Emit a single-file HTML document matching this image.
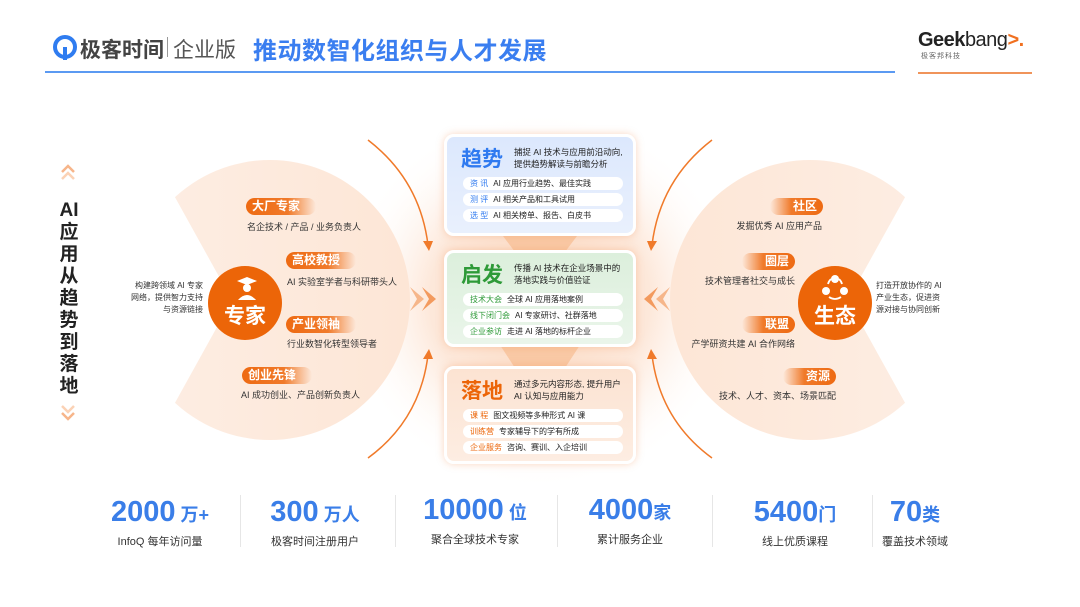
<!DOCTYPE html>
<html><head><meta charset="utf-8"><style>
*{margin:0;padding:0;box-sizing:border-box}
body{width:1080px;height:607px;background:#fff;position:relative;overflow:hidden;font-family:"Liberation Sans","Noto Sans CJK SC",sans-serif;color:#222}
.a{position:absolute;white-space:nowrap}
.pill{position:absolute;height:17px;border-radius:9px;color:#fff;font-size:12px;font-weight:bold;line-height:17px;padding:0 6px;white-space:nowrap}
.pl{background:linear-gradient(90deg,#ee6a12 0%,#f07a2a 60%,rgba(245,150,90,0) 100%)}
.pr{background:linear-gradient(270deg,#ee6a12 0%,#f07a2a 60%,rgba(245,150,90,0) 100%);text-align:right}
.d{position:absolute;font-size:9px;color:#333;white-space:nowrap}
.card{position:absolute;left:444px;width:192px;border-radius:10px;border:3px solid #fff;box-shadow:0 0 8px rgba(240,140,80,.35)}
.card .t{position:absolute;left:14px;top:6px;font-size:21px;font-weight:bold}
.card .s{position:absolute;left:67px;top:9px;font-size:8.5px;line-height:12px;color:#222}
.row{position:absolute;left:16px;width:160px;height:13px;background:#fff;border-radius:7px;font-size:8px;line-height:13px;padding-left:7px;color:#222}
.row b{font-weight:normal;margin-right:5px}
.num{position:absolute;font-size:29px;color:#3a7ee8;font-weight:bold;white-space:nowrap;text-align:center}
.num span{font-size:18px}
.lab{position:absolute;font-size:11px;color:#333;white-space:nowrap;text-align:center}
.div{position:absolute;top:495px;width:1px;height:52px;background:#e6e6e6}
</style></head><body>

<svg class="a" style="left:0;top:0" width="1080" height="607">
<defs>
<radialGradient id="glow" cx="50%" cy="50%" r="50%"><stop offset="0" stop-color="#fbd7bd"/><stop offset="0.55" stop-color="#fde8da"/><stop offset="1" stop-color="#fff" stop-opacity="0"/></radialGradient>
<linearGradient id="pl" x1="0" x2="1"><stop offset="0" stop-color="#fdeee4"/><stop offset="1" stop-color="#fde6d6"/></linearGradient>
<linearGradient id="pr" x1="1" x2="0"><stop offset="0" stop-color="#fdeee4"/><stop offset="1" stop-color="#fde6d6"/></linearGradient>
</defs>
<ellipse cx="540" cy="300" rx="200" ry="190" fill="url(#glow)"/>
<circle cx="270" cy="300" r="140" fill="url(#pl)"/>
<polygon points="100,62 232,300 100,538" fill="#fff"/>
<path d="M368,140 Q420,180 428,245" fill="none" stroke="#f07a2a" stroke-width="1.5"/>
<polygon points="423,241 433,241 429,251" fill="#f07a2a"/>
<path d="M368,458 Q420,420 428,355" fill="none" stroke="#f07a2a" stroke-width="1.5"/>
<polygon points="423,359 433,359 429,349" fill="#f07a2a"/>
<circle cx="810" cy="300" r="140" fill="url(#pr)"/>
<polygon points="980,62 848,300 980,538" fill="#fff"/>
<path d="M712,140 Q660,180 652,245" fill="none" stroke="#f07a2a" stroke-width="1.5"/>
<polygon points="647,241 657,241 651,251" fill="#f07a2a"/>
<path d="M712,458 Q660,420 652,355" fill="none" stroke="#f07a2a" stroke-width="1.5"/>
<polygon points="647,359 657,359 651,349" fill="#f07a2a"/>
<polygon points="410,287 424,299 410,311 417,299" fill="#f6b68a"/>
<polygon points="422,287 436,299 422,311 429,299" fill="#f39a5e"/>
<polygon points="670,287 656,299 670,311 663,299" fill="#f6b68a"/>
<polygon points="658,287 644,299 658,311 651,299" fill="#f39a5e"/>
<polygon points="500,232 580,232 565,252 515,252" fill="#f9c9a5"/>
<polygon points="500,345 580,345 565,368 515,368" fill="#f9c9a5"/>
<circle cx="245" cy="303" r="37" fill="#ec6508"/>
<circle cx="835" cy="303" r="37" fill="#ec6508"/>
<polygon points="237,281 247,277 257,281 247,285" fill="#fff"/>
<circle cx="247" cy="288" r="4" fill="#fff"/>
<path d="M238,300 Q247,290 256,300 Z" fill="#fff"/>
<circle cx="835" cy="279" r="4" fill="#fff"/><circle cx="826" cy="291" r="4" fill="#fff"/><circle cx="844" cy="291" r="4" fill="#fff"/>
<path d="M828,284 A10,10 0 0 1 831,279 M839,279 A10,10 0 0 1 842,284 M829,297 Q835,301 841,297" fill="none" stroke="#fff" stroke-width="1.8"/>
<polyline points="62,172 68,166 74,172" fill="none" stroke="#f7b58a" stroke-width="2.5"/>
<polyline points="62,179 68,173 74,179" fill="none" stroke="#fbd2b5" stroke-width="2.5"/>
<polyline points="62,406 68,412 74,406" fill="none" stroke="#fbd2b5" stroke-width="2.5"/>
<polyline points="62,413 68,419 74,413" fill="none" stroke="#f7b58a" stroke-width="2.5"/>
<line x1="45" y1="72" x2="895" y2="72" stroke="#5b9af2" stroke-width="2"/>
<line x1="918" y1="73" x2="1032" y2="73" stroke="#f0945a" stroke-width="2"/>
</svg>

<!-- header -->
<svg class="a" style="left:53px;top:35px" width="24" height="26" viewBox="0 0 24 26"><circle cx="12" cy="12" r="10" fill="none" stroke="#2f7cf0" stroke-width="4"/><path d="M12 12 L12 25" stroke="#2f7cf0" stroke-width="4"/></svg>
<div class="a" style="left:80px;top:34px;font-size:21px;color:#444;font-weight:bold">极客时间</div>
<div class="a" style="left:167px;top:37px;width:1px;height:20px;background:#999"></div>
<div class="a" style="left:173px;top:34px;font-size:21px;color:#555">企业版</div>
<div class="a" style="left:253px;top:31px;font-size:24px;color:#3a7ef0;font-weight:bold;letter-spacing:0.5px">推动数智化组织与人才发展</div>
<div class="a" style="left:918px;top:29px;font-size:20px;color:#222;font-weight:bold;letter-spacing:-0.5px">Geek<span style="font-weight:normal">bang</span><span style="color:#f07020">&gt;.</span></div>
<div class="a" style="left:921px;top:51px;font-size:7px;color:#666;letter-spacing:1px">极客邦科技</div>

<div class="a" style="left:207px;top:300px;width:76px;text-align:center;color:#fff;font-size:21px;font-weight:bold">专家</div>
<div class="a" style="left:797px;top:300px;width:76px;text-align:center;color:#fff;font-size:21px;font-weight:bold">生态</div>

<div class="a" style="left:56px;top:200px;width:26px;text-align:center;font-size:19px;font-weight:bold;line-height:22px;white-space:normal">AI<br>应<br>用<br>从<br>趋<br>势<br>到<br>落<br>地</div>

<div class="pill pl" style="left:246px;top:198px;width:70px">大厂专家</div>
<div class="d" style="left:247px;top:220px">名企技术 / 产品 / 业务负责人</div>
<div class="pill pl" style="left:286px;top:252px;width:70px">高校教授</div>
<div class="d" style="left:287px;top:275px">AI 实验室学者与科研带头人</div>
<div class="pill pl" style="left:286px;top:316px;width:70px">产业领袖</div>
<div class="d" style="left:287px;top:337px">行业数智化转型领导者</div>
<div class="pill pl" style="left:242px;top:367px;width:70px">创业先锋</div>
<div class="d" style="left:241px;top:388px">AI 成功创业、产品创新负责人</div>
<div class="d" style="left:130px;top:280px;width:73px;text-align:right;font-size:8px;line-height:12px;white-space:normal">构建跨领域 AI 专家网络，提供智力支持与资源链接</div>

<div class="pill pr" style="left:770px;top:198px;width:53px">社区</div>
<div class="d" style="left:722px;top:219px;width:100px;text-align:right">发掘优秀 AI 应用产品</div>
<div class="pill pr" style="left:742px;top:253px;width:53px">圈层</div>
<div class="d" style="left:695px;top:274px;width:100px;text-align:right">技术管理者社交与成长</div>
<div class="pill pr" style="left:742px;top:316px;width:53px">联盟</div>
<div class="d" style="left:680px;top:337px;width:115px;text-align:right">产学研资共建 AI 合作网络</div>
<div class="pill pr" style="left:783px;top:368px;width:53px">资源</div>
<div class="d" style="left:716px;top:389px;width:120px;text-align:right">技术、人才、资本、场景匹配</div>
<div class="d" style="left:876px;top:280px;width:70px;font-size:8px;line-height:12px;white-space:normal">打造开放协作的 AI 产业生态，促进资源对接与协同创新</div>

<div class="card" style="top:134px;height:102px;background:linear-gradient(180deg,#dce8fd,#e9f0fd)">
 <div class="t" style="color:#2f7af0">趋势</div>
 <div class="s">捕捉 AI 技术与应用前沿动向,<br>提供趋势解读与前瞻分析</div>
 <div class="row" style="top:40px"><b style="color:#2f7af0">资 讯</b>AI 应用行业趋势、最佳实践</div>
 <div class="row" style="top:56px"><b style="color:#2f7af0">测 评</b>AI 相关产品和工具试用</div>
 <div class="row" style="top:72px"><b style="color:#2f7af0">选 型</b>AI 相关榜单、报告、白皮书</div>
</div>
<div class="card" style="top:250px;height:97px;background:linear-gradient(180deg,#dcefdc,#eaf5ea)">
 <div class="t" style="color:#2e9a38">启发</div>
 <div class="s">传播 AI 技术在企业场景中的<br>落地实践与价值验证</div>
 <div class="row" style="top:40px"><b style="color:#2e9a38">技术大会</b>全球 AI 应用落地案例</div>
 <div class="row" style="top:56px"><b style="color:#2e9a38">线下闭门会</b>AI 专家研讨、社群落地</div>
 <div class="row" style="top:72px"><b style="color:#2e9a38">企业参访</b>走进 AI 落地的标杆企业</div>
</div>
<div class="card" style="top:366px;height:98px;background:linear-gradient(180deg,#fce3d2,#fdede2)">
 <div class="t" style="color:#ec6508">落地</div>
 <div class="s">通过多元内容形态, 提升用户<br>AI 认知与应用能力</div>
 <div class="row" style="top:40px"><b style="color:#ec6508">课 程</b>图文视频等多种形式 AI 课</div>
 <div class="row" style="top:56px"><b style="color:#ec6508">训练营</b>专家辅导下的学有所成</div>
 <div class="row" style="top:72px"><b style="color:#ec6508">企业服务</b>咨询、赛训、入企培训</div>
</div>

<div class="num" style="left:60px;width:200px;top:496px">2000<span> 万+</span></div>
<div class="lab" style="left:60px;width:200px;top:533px">InfoQ 每年访问量</div>
<div class="div" style="left:240px"></div>
<div class="num" style="left:215px;width:200px;top:496px">300<span> 万人</span></div>
<div class="lab" style="left:215px;width:200px;top:533px">极客时间注册用户</div>
<div class="div" style="left:395px"></div>
<div class="num" style="left:375px;width:200px;top:494px">10000<span> 位</span></div>
<div class="lab" style="left:375px;width:200px;top:531px">聚合全球技术专家</div>
<div class="div" style="left:557px"></div>
<div class="num" style="left:530px;width:200px;top:494px">4000<span>家</span></div>
<div class="lab" style="left:530px;width:200px;top:531px">累计服务企业</div>
<div class="div" style="left:712px"></div>
<div class="num" style="left:695px;width:200px;top:496px">5400<span>门</span></div>
<div class="lab" style="left:695px;width:200px;top:533px">线上优质课程</div>
<div class="div" style="left:872px"></div>
<div class="num" style="left:825px;width:180px;top:496px">70<span>类</span></div>
<div class="lab" style="left:825px;width:180px;top:533px">覆盖技术领域</div>
</body></html>
